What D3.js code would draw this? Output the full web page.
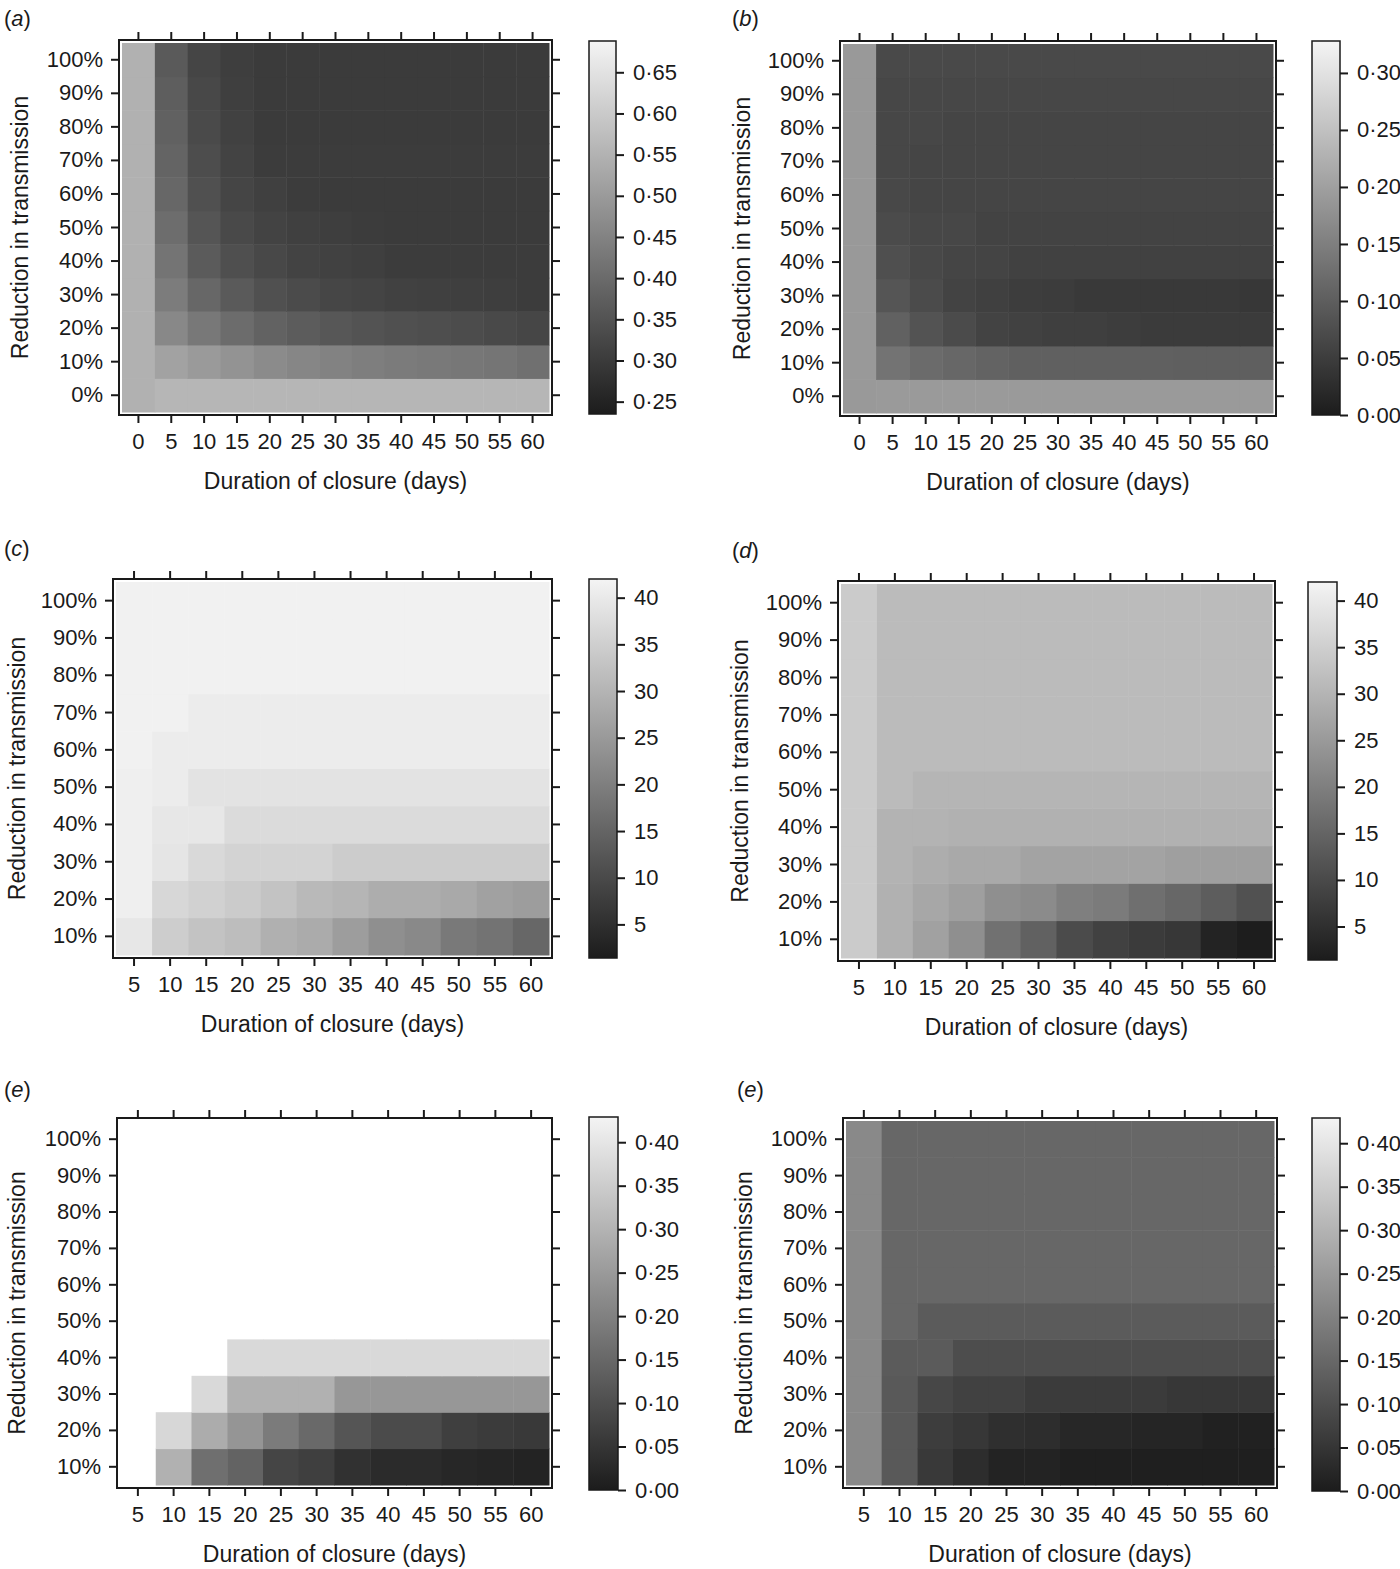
<!DOCTYPE html>
<html>
<head>
<meta charset="utf-8">
<title>School closure heatmaps</title>
<style>
body { margin: 0; background: #fff; }
svg { display: block; }
text { font-family: "Liberation Sans", Arial, Helvetica, sans-serif; fill: #1a1a1a; }
.tick line { stroke: #1a1a1a; stroke-width: 2px; }
.domain { display: none; }
</style>
</head>
<body>
<script src="https://cdn.jsdelivr.net/npm/d3@7/dist/d3.min.js"></script>
<script>

// ---- data (rows go from the lowest reduction up to 100%) ----
var daysFrom0 = [0, 5, 10, 15, 20, 25, 30, 35, 40, 45, 50, 55, 60];
var daysFrom5 = [5, 10, 15, 20, 25, 30, 35, 40, 45, 50, 55, 60];
var reductionFrom0 = ["0%", "10%", "20%", "30%", "40%", "50%", "60%", "70%", "80%", "90%", "100%"];
var reductionFrom10 = ["10%", "20%", "30%", "40%", "50%", "60%", "70%", "80%", "90%", "100%"];

var valuesA = [
  [0.548, 0.557, 0.558, 0.557, 0.558, 0.557, 0.558, 0.557, 0.558, 0.557, 0.558, 0.557, 0.558],
  [0.548, 0.515, 0.500, 0.485, 0.468, 0.458, 0.448, 0.440, 0.434, 0.430, 0.425, 0.421, 0.412],
  [0.548, 0.462, 0.428, 0.402, 0.382, 0.370, 0.359, 0.350, 0.345, 0.340, 0.335, 0.330, 0.324],
  [0.548, 0.436, 0.392, 0.364, 0.345, 0.333, 0.324, 0.318, 0.313, 0.310, 0.308, 0.306, 0.302],
  [0.548, 0.420, 0.368, 0.342, 0.328, 0.316, 0.312, 0.309, 0.303, 0.303, 0.302, 0.302, 0.302],
  [0.548, 0.404, 0.354, 0.330, 0.316, 0.310, 0.306, 0.302, 0.301, 0.301, 0.301, 0.301, 0.301],
  [0.548, 0.393, 0.344, 0.322, 0.310, 0.302, 0.301, 0.300, 0.300, 0.300, 0.300, 0.300, 0.300],
  [0.548, 0.386, 0.337, 0.316, 0.303, 0.302, 0.302, 0.302, 0.302, 0.302, 0.302, 0.302, 0.302],
  [0.548, 0.379, 0.331, 0.312, 0.301, 0.301, 0.301, 0.301, 0.301, 0.301, 0.301, 0.301, 0.301],
  [0.548, 0.373, 0.327, 0.309, 0.299, 0.299, 0.299, 0.299, 0.299, 0.299, 0.299, 0.299, 0.299],
  [0.548, 0.366, 0.322, 0.307, 0.301, 0.301, 0.301, 0.301, 0.301, 0.301, 0.301, 0.301, 0.301]
];

var valuesB = [
  [0.190, 0.192, 0.192, 0.192, 0.192, 0.192, 0.192, 0.192, 0.192, 0.192, 0.192, 0.192, 0.192],
  [0.190, 0.132, 0.120, 0.114, 0.108, 0.104, 0.104, 0.104, 0.103, 0.103, 0.101, 0.101, 0.101],
  [0.190, 0.105, 0.084, 0.071, 0.059, 0.056, 0.053, 0.053, 0.050, 0.047, 0.047, 0.047, 0.047],
  [0.190, 0.087, 0.071, 0.059, 0.055, 0.050, 0.049, 0.044, 0.044, 0.044, 0.044, 0.044, 0.041],
  [0.190, 0.077, 0.067, 0.062, 0.061, 0.056, 0.056, 0.056, 0.056, 0.056, 0.056, 0.056, 0.056],
  [0.190, 0.071, 0.065, 0.065, 0.059, 0.059, 0.059, 0.059, 0.059, 0.059, 0.059, 0.059, 0.059],
  [0.190, 0.067, 0.062, 0.062, 0.062, 0.062, 0.062, 0.062, 0.062, 0.062, 0.062, 0.062, 0.062],
  [0.190, 0.065, 0.062, 0.062, 0.062, 0.062, 0.062, 0.062, 0.062, 0.062, 0.062, 0.062, 0.062],
  [0.190, 0.065, 0.065, 0.062, 0.062, 0.062, 0.062, 0.062, 0.062, 0.062, 0.062, 0.062, 0.062],
  [0.190, 0.065, 0.065, 0.065, 0.065, 0.065, 0.065, 0.065, 0.065, 0.065, 0.065, 0.065, 0.065],
  [0.190, 0.068, 0.068, 0.068, 0.068, 0.068, 0.068, 0.068, 0.068, 0.068, 0.068, 0.068, 0.068]
];

var valuesC = [
  [39.6, 34.7, 32.8, 31.7, 29.2, 28.3, 25.7, 23.0, 21.9, 18.9, 17.8, 15.5],
  [41.1, 36.6, 35.4, 34.3, 32.8, 30.9, 30.2, 28.7, 28.7, 27.9, 26.4, 25.7],
  [41.1, 39.2, 36.9, 35.8, 35.8, 35.8, 34.5, 34.5, 34.5, 34.5, 34.5, 34.5],
  [41.1, 39.6, 39.6, 37.3, 37.3, 37.3, 37.3, 37.3, 37.3, 37.3, 37.3, 37.3],
  [41.1, 40.5, 38.8, 38.8, 38.8, 38.8, 38.8, 38.8, 38.8, 38.8, 38.8, 38.8],
  [41.5, 40.5, 40.5, 40.5, 40.5, 40.5, 40.5, 40.5, 40.5, 40.5, 40.5, 40.5],
  [41.5, 41.5, 40.5, 40.5, 40.5, 40.5, 40.5, 40.5, 40.5, 40.5, 40.5, 40.5],
  [41.5, 41.5, 41.5, 41.5, 41.5, 41.5, 41.5, 41.5, 41.5, 41.5, 41.5, 41.5],
  [41.5, 41.5, 41.5, 41.5, 41.5, 41.5, 41.5, 41.5, 41.5, 41.5, 41.5, 41.5],
  [41.5, 41.5, 41.5, 41.5, 41.5, 41.5, 41.5, 41.5, 41.5, 41.5, 41.5, 41.5]
];

var valuesD = [
  [34.3, 29.4, 26.4, 23.0, 17.4, 14.4, 10.2, 8.4, 7.2, 6.5, 2.7, 1.6],
  [34.3, 29.4, 27.5, 26.0, 23.0, 22.3, 20.0, 19.3, 17.0, 15.5, 13.6, 11.4],
  [34.3, 29.8, 28.7, 27.9, 27.9, 26.8, 26.8, 26.8, 26.8, 26.0, 26.0, 26.0],
  [34.3, 29.8, 29.8, 29.4, 29.4, 29.4, 29.4, 29.4, 29.4, 29.4, 29.4, 29.4],
  [34.3, 31.3, 30.2, 30.2, 30.2, 30.2, 30.2, 30.2, 30.2, 30.2, 30.2, 30.2],
  [34.3, 31.3, 31.3, 31.3, 31.3, 31.3, 31.3, 31.3, 31.3, 31.3, 31.3, 31.3],
  [34.3, 31.3, 31.3, 31.3, 31.3, 31.3, 31.3, 31.3, 31.3, 31.3, 31.3, 31.3],
  [34.3, 31.3, 31.3, 31.3, 31.3, 31.3, 31.3, 31.3, 31.3, 31.3, 31.3, 31.3],
  [34.3, 31.3, 31.3, 31.3, 31.3, 31.3, 31.3, 31.3, 31.3, 31.3, 31.3, 31.3],
  [34.3, 31.3, 31.3, 31.3, 31.3, 31.3, 31.3, 31.3, 31.3, 31.3, 31.3, 31.3]
];

// null = no value (left blank)
var valuesE = [
  [null, 0.296, 0.165, 0.141, 0.081, 0.070, 0.042, 0.030, 0.030, 0.022, 0.018, 0.014],
  [null, 0.371, 0.286, 0.240, 0.189, 0.153, 0.113, 0.093, 0.093, 0.070, 0.062, 0.058],
  [null, null, 0.375, 0.296, 0.296, 0.296, 0.244, 0.244, 0.244, 0.244, 0.244, 0.244],
  [null, null, null, 0.375, 0.375, 0.375, 0.375, 0.375, 0.375, 0.375, 0.375, 0.375],
  [null, null, null, null, null, null, null, null, null, null, null, null],
  [null, null, null, null, null, null, null, null, null, null, null, null],
  [null, null, null, null, null, null, null, null, null, null, null, null],
  [null, null, null, null, null, null, null, null, null, null, null, null],
  [null, null, null, null, null, null, null, null, null, null, null, null],
  [null, null, null, null, null, null, null, null, null, null, null, null]
];

var valuesF = [
  [0.216, 0.121, 0.058, 0.034, 0.014, 0.014, 0.006, 0.006, 0.006, 0.006, 0.006, 0.006],
  [0.216, 0.121, 0.066, 0.054, 0.038, 0.034, 0.022, 0.022, 0.018, 0.018, 0.010, 0.010],
  [0.216, 0.121, 0.085, 0.073, 0.073, 0.062, 0.062, 0.062, 0.062, 0.054, 0.054, 0.054],
  [0.216, 0.125, 0.125, 0.097, 0.097, 0.097, 0.097, 0.097, 0.097, 0.097, 0.097, 0.097],
  [0.216, 0.149, 0.125, 0.125, 0.125, 0.125, 0.125, 0.125, 0.125, 0.125, 0.125, 0.125],
  [0.216, 0.149, 0.149, 0.149, 0.149, 0.149, 0.149, 0.149, 0.149, 0.149, 0.149, 0.149],
  [0.216, 0.149, 0.149, 0.149, 0.149, 0.149, 0.149, 0.149, 0.149, 0.149, 0.149, 0.149],
  [0.216, 0.149, 0.149, 0.149, 0.149, 0.149, 0.149, 0.149, 0.149, 0.149, 0.149, 0.149],
  [0.216, 0.149, 0.149, 0.149, 0.149, 0.149, 0.149, 0.149, 0.149, 0.149, 0.149, 0.149],
  [0.216, 0.149, 0.149, 0.149, 0.149, 0.149, 0.149, 0.149, 0.149, 0.149, 0.149, 0.149]
];

// colour key ranges and key tick values
var rangeA = [0.235, 0.688], keyTicksA = [0.25, 0.30, 0.35, 0.40, 0.45, 0.50, 0.55, 0.60, 0.65];
var rangeB = [0.0, 0.328], keyTicksB = [0.00, 0.05, 0.10, 0.15, 0.20, 0.25, 0.30];
var rangeCD = [1.4, 42.0], keyTicksCD = [5, 10, 15, 20, 25, 30, 35, 40];
var rangeEF = [0.0, 0.429], keyTicksEF = [0.00, 0.05, 0.10, 0.15, 0.20, 0.25, 0.30, 0.35, 0.40];

// ---- layout ----
var width = 1400, height = 1569;
var pad = 3;
var tickFont = 22, titleFont = 23;

var panels = [
  {label: "a", days: daysFrom0, red: reductionFrom0, z: valuesA, range: rangeA, keyTicks: keyTicksA, dec: true,
   cells: [122, 549, 43, 412], key: [589, 616, 41, 414], ytx: 28, lab: [4, 26]},
  {label: "b", days: daysFrom0, red: reductionFrom0, z: valuesB, range: rangeB, keyTicks: keyTicksB, dec: true,
   cells: [843, 1273, 44, 413], key: [1312, 1340, 41, 415], ytx: 750, lab: [732, 26]},
  {label: "c", days: daysFrom5, red: reductionFrom10, z: valuesC, range: rangeCD, keyTicks: keyTicksCD, dec: false,
   cells: [116, 549, 582, 955], key: [589, 617, 579, 958], ytx: 25, lab: [4, 556]},
  {label: "d", days: daysFrom5, red: reductionFrom10, z: valuesD, range: rangeCD, keyTicks: keyTicksCD, dec: false,
   cells: [841, 1272, 584, 958], key: [1308, 1337, 582, 960], ytx: 748, lab: [732, 558]},
  {label: "e", days: daysFrom5, red: reductionFrom10, z: valuesE, range: rangeEF, keyTicks: keyTicksEF, dec: true,
   cells: [120, 549, 1121, 1485], key: [589, 618, 1117, 1490], ytx: 25, lab: [4, 1097]},
  {label: "e", days: daysFrom5, red: reductionFrom10, z: valuesF, range: rangeEF, keyTicks: keyTicksEF, dec: true,
   cells: [846, 1274, 1121, 1485], key: [1312, 1340, 1118, 1491], ytx: 752, lab: [737, 1097]}
];

var darkGrey = "#1c1c1c", lightGrey = "#f4f4f4";

var svg = d3.select("body").append("svg")
    .attr("width", width)
    .attr("height", height);

var defs = svg.append("defs");
var grad = defs.append("linearGradient")
    .attr("id", "greyramp")
    .attr("x1", 0).attr("y1", 1).attr("x2", 0).attr("y2", 0);
grad.append("stop").attr("offset", 0).attr("stop-color", darkGrey);
grad.append("stop").attr("offset", 1).attr("stop-color", lightGrey);

function decFormat(v) {
  return d3.format(".2f")(v).replace(".", "\u00b7");
}

panels.forEach(function(p) {
  var g = svg.append("g");
  var c = p.cells;

  var x = d3.scaleBand().domain(p.days).range([c[0], c[1]]);
  var y = d3.scaleBand().domain(p.red).range([c[3], c[2]]);
  var color = d3.scaleLinear().domain(p.range).range([darkGrey, lightGrey]).clamp(true);

  // flatten the grid
  var cells = [];
  p.z.forEach(function(row, i) {
    row.forEach(function(v, j) {
      if (v != null) cells.push({day: p.days[j], red: p.red[i], value: v});
    });
  });

  g.selectAll("rect.cell")
      .data(cells)
      .enter().append("rect")
      .attr("class", "cell")
      .attr("x", function(d) { return x(d.day); })
      .attr("y", function(d) { return y(d.red); })
      .attr("width", x.bandwidth() + 0.5)
      .attr("height", y.bandwidth() + 0.5)
      .attr("fill", function(d) { return color(d.value); });

  var fl = c[0] - pad, fr = c[1] + pad, ft = c[2] - pad, fb = c[3] + pad;

  // axes on all four sides, labels only bottom and left
  g.append("g")
      .attr("transform", "translate(0," + fb + ")")
      .call(d3.axisBottom(x).tickSize(8).tickPadding(10))
      .selectAll("text").attr("font-size", tickFont);
  g.append("g")
      .attr("transform", "translate(0," + ft + ")")
      .call(d3.axisTop(x).tickSize(8).tickFormat(""));
  g.append("g")
      .attr("transform", "translate(" + fl + ",0)")
      .call(d3.axisLeft(y).tickSize(8).tickPadding(8))
      .selectAll("text").attr("font-size", tickFont);
  g.append("g")
      .attr("transform", "translate(" + fr + ",0)")
      .call(d3.axisRight(y).tickSize(8).tickFormat(""));
  g.selectAll(".tick text").attr("fill", "#1a1a1a").style("font-family", "'Liberation Sans', Arial, sans-serif");

  g.append("rect")
      .attr("x", fl).attr("y", ft)
      .attr("width", fr - fl).attr("height", fb - ft)
      .attr("fill", "none")
      .attr("stroke", "#1a1a1a")
      .attr("stroke-width", 2);

  // axis titles
  g.append("text")
      .attr("x", (fl + fr) / 2)
      .attr("y", fb + 74)
      .attr("text-anchor", "middle")
      .attr("font-size", titleFont)
      .text("Duration of closure (days)");
  g.append("text")
      .attr("transform", "translate(" + p.ytx + "," + ((ft + fb) / 2) + ") rotate(-90)")
      .attr("text-anchor", "middle")
      .attr("font-size", titleFont)
      .text("Reduction in transmission");

  // panel letter
  var lt = g.append("text")
      .attr("x", p.lab[0]).attr("y", p.lab[1])
      .attr("font-size", 22);
  lt.append("tspan").text("(");
  lt.append("tspan").attr("font-style", "italic").text(p.label);
  lt.append("tspan").text(")");

  // colour key
  var k = p.key;
  var ky = d3.scaleLinear().domain(p.range).range([k[3], k[2]]);
  g.append("rect")
      .attr("x", k[0]).attr("y", k[2])
      .attr("width", k[1] - k[0]).attr("height", k[3] - k[2])
      .attr("fill", "url(#greyramp)")
      .attr("stroke", "#1a1a1a")
      .attr("stroke-width", 1.5);
  var keyAxis = g.append("g")
      .attr("transform", "translate(" + k[1] + ",0)")
      .call(d3.axisRight(ky).tickValues(p.keyTicks).tickSize(8).tickPadding(9)
        .tickFormat(p.dec ? decFormat : d3.format("d")));
  keyAxis.selectAll("text").attr("font-size", tickFont).attr("fill", "#1a1a1a");
});

</script>
</body>
</html>
